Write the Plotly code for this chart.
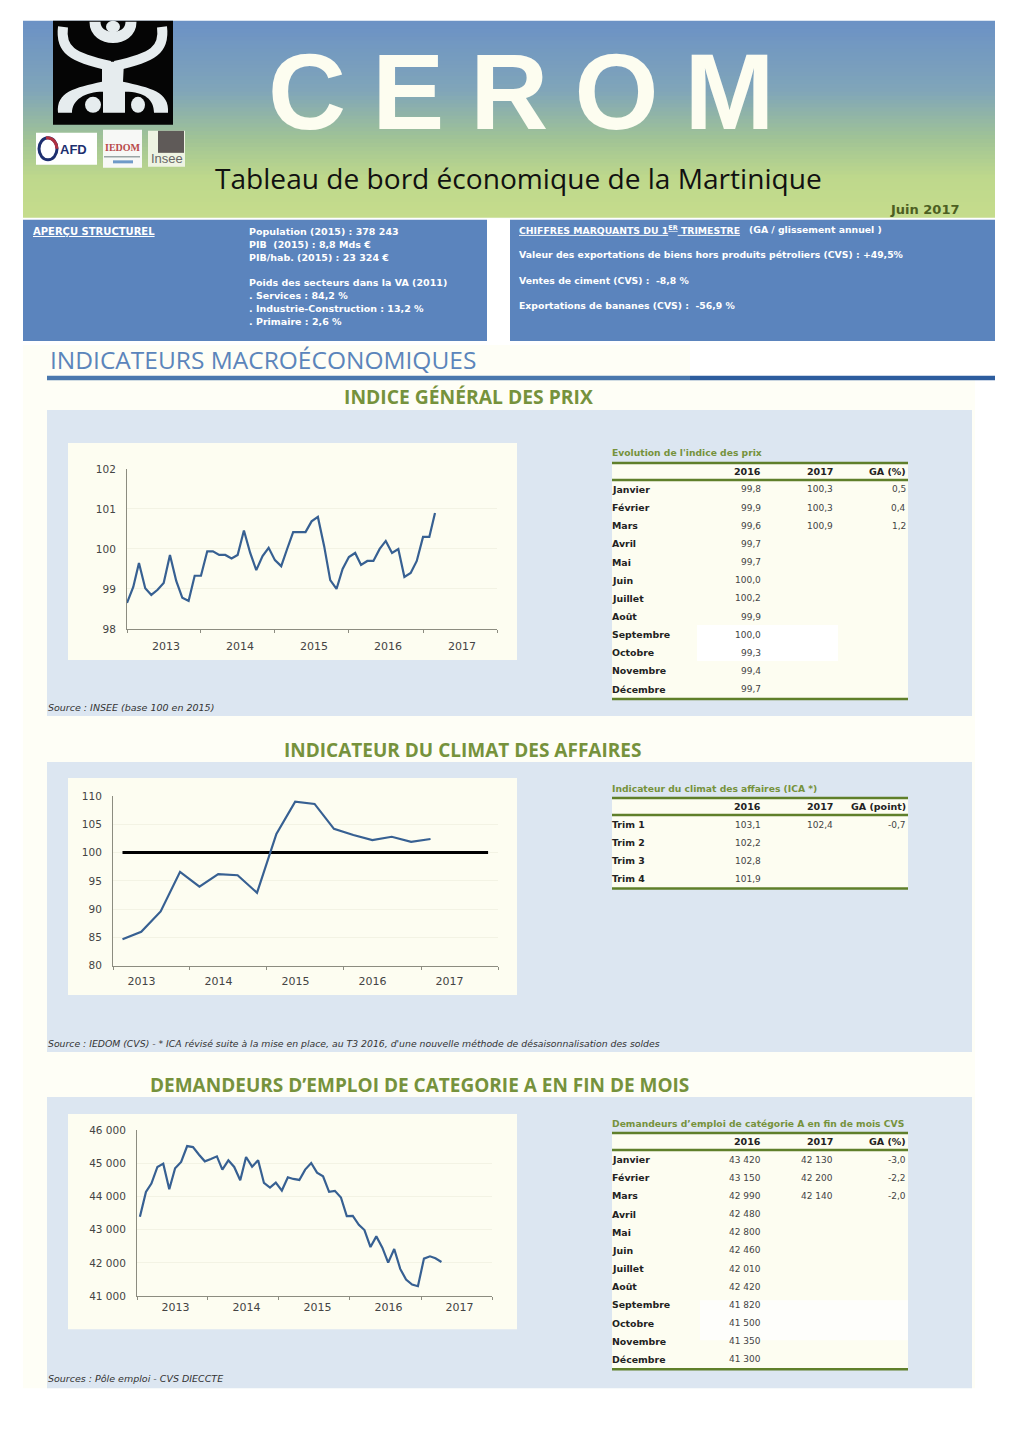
import plotly.graph_objects as go
import pandas as pd

# ---------- data ----------
PRICE_INDEX = [98.65,99.05,99.65,99.02,98.85,98.98,99.15,99.85,99.2,98.78,98.7,99.33,
               99.33,99.94,99.94,99.85,99.85,99.76,99.85,100.46,99.9,99.47,99.82,100.03,
               99.72,99.57,99.98,100.42,100.42,100.42,100.69,100.8,100.07,99.22,99.0,99.5,
               99.8,99.9,99.6,99.7,99.7,100.0,100.2,99.9,100.0,99.3,99.4,99.7,
               100.3,100.3,100.9]
CLIMATE = [84.7,86.0,89.6,96.6,94.0,96.2,96.0,92.9,103.3,109.0,108.6,104.2,
           103.1,102.2,102.8,101.9,102.4]
CLIMATE_REF = [100]*20
JOBSEEKERS = [43390,44140,44390,44890,44990,44220,44850,45040,45520,45490,45260,45060,
              45130,45210,44810,45090,44890,44490,45190,44900,45090,44410,44270,44420,
              44180,44580,44530,44500,44810,45010,44720,44610,44140,44170,43970,43410,
              43420,43150,42990,42480,42800,42460,42010,42420,41820,41500,41350,41300,
              42130,42200,42140,42030]
MONTHS = ["Janvier","Février","Mars","Avril","Mai","Juin","Juillet","Août","Septembre",
          "Octobre","Novembre","Décembre"]
QUARTERS = ["Trim 1","Trim 2","Trim 3","Trim 4"]
T1_2016 = ["99,8","99,9","99,6","99,7","99,7","100,0","100,2","99,9","100,0","99,3","99,4","99,7"]
T1_2017 = ["100,3","100,3","100,9"]
T1_GA = ["0,5","0,4","1,2"]
T2_2016 = ["103,1","102,2","102,8","101,9"]
T2_2017 = ["102,4"]
T2_GA = ["-0,7"]
T3_2016 = ["43 420","43 150","42 990","42 480","42 800","42 460","42 010","42 420","41 820","41 500","41 350","41 300"]
T3_2017 = ["42 130","42 200","42 140"]
T3_GA = ["-3,0","-2,2","-2,0"]
Y3_TICKS = [41000,42000,43000,44000,45000,46000]
Y3_TEXT = ["41 000","42 000","43 000","44 000","45 000","46 000"]

W, H = 1024, 1450
PLOT_TOP, PLOT_H = 6.2, 1437.6   # where the paper's vertical extent lands on the page
BLUE_BOX = "#5b84bd"; PANEL = "#dce6f1"; CREAM = "#fdfdf1"; PAGE = "#fefef6"; GREEN = "#76923c"; RULE = "#5f7f2a"
LINE = "#376092"; DV = "DejaVu Sans"; TITLE_FONT = "Open Sans"; LOGO = "#e6ecee"

px = lambda x: x / W
py = lambda y: 1 - (y - PLOT_TOP) / PLOT_H
shapes, annos = [], []

def rect(x0, y0, x1, y1, color):
    shapes.append(dict(type="rect", xref="paper", yref="paper", layer="below",
                       x0=px(x0), x1=px(x1), y0=py(y1), y1=py(y0), fillcolor=color, line=dict(width=0)))

def hline(x0, x1, y, color, width):
    shapes.append(dict(type="line", xref="paper", yref="paper", layer="below",
                       x0=px(x0), x1=px(x1), y0=py(y), y1=py(y), line=dict(color=color, width=width)))

def curve(cmds, color=LOGO, width=0, fill=None):
    s = ""
    for c in cmds:
        s += c[0] + " " + " ".join(
            f"{px(v) if i % 2 == 0 else py(v):.5f}" for i, v in enumerate(c[1:])) + " "
    shapes.append(dict(type="path", xref="paper", yref="paper", layer="below", path=s,
                       fillcolor=fill if fill else "rgba(0,0,0,0)",
                       line=dict(color=color, width=width)))

def ell(cx, cy, rx, ry, color, lw=0, fill=True):
    shapes.append(dict(type="circle", xref="paper", yref="paper", layer="below",
                       x0=px(cx-rx), x1=px(cx+rx), y0=py(cy+ry), y1=py(cy-ry),
                       fillcolor=color if fill else "rgba(0,0,0,0)",
                       line=dict(width=lw, color=color)))

def text(x, y, s, size=10, color="#222", family=DV, anchor="left", under=False):
    font = dict(size=size, color=color, family=family)
    if under:
        font["lineposition"] = "under"
    dx = {"left": -2, "right": 2, "center": 0}[anchor]
    annos.append(dict(xref="paper", yref="paper", x=px(x+dx), y=py(y), text=s, showarrow=False,
                      xanchor=anchor, yanchor="middle", font=font, align=anchor))

# ---------- page backgrounds ----------
rect(23, 345, 975, 1388, PAGE)
rect(690, 345, 1000, 376, "white")

stops = [(0, (108,146,197)), (0.35, (128,165,185)), (0.6, (160,195,150)), (0.8, (190,216,140)), (1, (197,220,140))]
def grad(t):
    for (a, ca), (b, cb) in zip(stops, stops[1:]):
        if t <= b:
            f = (t-a)/(b-a)
            return "rgb(%d,%d,%d)" % tuple(round(p+(q-p)*f) for p, q in zip(ca, cb))
    return "rgb(197,220,140)"
n = 50
for i in range(n):
    rect(23, 21+197*i/n, 995, min(218, 21+197*(i+1)/n+2), grad(i/(n-1)))
rect(23, 220, 487, 341, BLUE_BOX)
rect(510, 220, 995, 341, BLUE_BOX)

# logo
rect(53, 21, 173, 125, "#050505")
curve([("M",63,27),("C",60,50,72,58,110,66)], width=10)
curve([("M",162,27),("C",165,50,153,58,115,66)], width=10)
curve([("M",95,22),("C",95,43,131,43,131,22)], width=11)
ell(113, 27, 7, 6, LOGO)
curve([("M",102,62),("L",124,62),("L",123,82),("C",150,88,170,92,168,113),("L",154,113),
       ("C",154,100,145,92,125,92),("L",125,113),("L",103,113),("L",103,92),
       ("C",85,92,72,100,72,113),("L",58,113),("C",56,92,75,88,102,82),("Z",)], fill=LOGO)
ell(93, 105, 8, 8, LOGO); ell(138, 105, 7, 8, LOGO)

# partner logos
rect(36, 133, 97, 165, "white")
ell(48, 149, 9, 11, "#1d2f6f", lw=3, fill=False)
curve([("M",46,138),("C",54,138,57,144,57,149)], color="#b03040", width=3)
text(60, 150, "<b>AFD</b>", 13, "#1d2f6f", "Liberation Sans")
rect(103, 130, 142, 168, "#f7f8f6")
text(123, 148, "<b>IEDOM</b>", 10, "#b84a4a", "Liberation Sans Narrow", "center")
hline(104, 140, 157, "#9aa5a5", 1.5)
hline(113, 133, 162, "#6f9ac8", 3)
rect(148, 131, 185, 167, "#eef3e2")
rect(158, 131, 184, 153, "#5f5a58")
text(166.5, 159, "Insee", 13, "#666", "Liberation Sans", "center")

# thin spans keep the title as a single string while matching its letter spacing
SP = '<span style="font-size:94px"> </span>'
text(521, 92, f"<b>C{SP}E{SP}R{SP}O{SP}M</b>", 108, "#fdfdf0", "Liberation Sans", "center")
text(518, 178, "Tableau de bord économique de la Martinique", 28.1, "#111", TITLE_FONT, "center")
text(960, 210, "<b>Juin 2017</b>", 13, "#4d5f22", DV, "right")

WHITE = "#ffffff"
text(33, 232, "<b>APERÇU STRUCTUREL</b>", 10, WHITE, under=True)
for y, s in [(232,"Population (2015) : 378 243"),(245,"PIB  (2015) : 8,8 Mds €"),(258,"PIB/hab. (2015) : 23 324 €"),
             (283,"Poids des secteurs dans la VA (2011)"),(296,". Services : 84,2 %"),
             (309,". Industrie-Construction : 13,2 %"),(322,". Primaire : 2,6 %")]:
    text(249, y, f"<b>{s}</b>", 9.5, WHITE)
text(519, 230, "<b>CHIFFRES MARQUANTS DU 1<sup>ER</sup> TRIMESTRE</b>", 9.3, WHITE, under=True)
text(749, 230, "<b>(GA / glissement annuel )</b>", 9.3, WHITE)
for y, s in [(255,"Valeur des exportations de biens hors produits pétroliers (CVS) : +49,5%"),
             (281,"Ventes de ciment (CVS) :  -8,8 %"),(306,"Exportations de bananes (CVS) :  -56,9 %")]:
    text(519, y, f"<b>{s}</b>", 9.3, WHITE)

text(50, 360, "INDICATEURS MACROÉCONOMIQUES", 24.5, "#5b85bb", TITLE_FONT)
hline(47, 690, 378, "#4a78ad", 4.5)
hline(690, 995, 378, "#2d5d9e", 4.5)

# ---------- section panels ----------
for (y0, y1, cy0, cy1) in [(410,716,443,660),(762,1052,778,995),(1097,1388,1114,1329)]:
    rect(47, y0, 972, y1, PANEL)
    rect(68, cy0, 517, cy1, CREAM)
text(468, 397, "<b>INDICE GÉNÉRAL DES PRIX</b>", 19.3, GREEN, TITLE_FONT, "center")
text(462, 750, "<b>INDICATEUR DU CLIMAT DES AFFAIRES</b>", 19, GREEN, TITLE_FONT, "center")
text(419, 1085, "<b>DEMANDEURS D’EMPLOI DE CATEGORIE A EN FIN DE MOIS</b>", 19, GREEN, TITLE_FONT, "center")
text(48, 708, "<i>Source : INSEE (base 100 en 2015)</i>", 9.5, "#333")
text(48, 1043, "<i>Source : IEDOM (CVS) - * ICA révisé suite à la mise en place, au T3 2016, d'une nouvelle méthode de désaisonnalisation des soldes</i>", 9.3, "#333")
text(48, 1378, "<i>Sources : Pôle emploi - CVS DIECCTE</i>", 9.5, "#333")

# ---------- tables ----------
def table(title, top, bottom, labels, c16, c17, ga, ga_head):
    rect(612, top, 908, bottom, CREAM)
    text(612, top-10, f"<b>{title}</b>", 9.2, GREEN)
    hline(612, 908, top, RULE, 2.5)
    hline(612, 908, top+17, RULE, 2.5)
    hline(612, 908, bottom, RULE, 2.5)
    text(761, top+8.5, "<b>2016</b>", 9.5, "#222", DV, "right")
    text(833, top+8.5, "<b>2017</b>", 9.5, "#222", DV, "right")
    text(906, top+8.5, f"<b>{ga_head}</b>", 9.5, "#222", DV, "right")
    for i, lab in enumerate(labels):
        y = top + 26.5 + i*18.15
        text(612, y, f"<b>{lab}</b>", 9.4)
        text(761, y, c16[i], 9, "#444", DV, "right")
        if i < len(c17):
            text(833, y, c17[i], 9, "#444", DV, "right")
            text(906, y, ga[i], 9, "#444", DV, "right")

table("Evolution de l'indice des prix", 463, 699, MONTHS, T1_2016, T1_2017, T1_GA, "GA (%)")
rect(697, 625, 838, 661, "#ffffff")
table("Indicateur du climat des affaires (ICA *)", 798, 888.5, QUARTERS, T2_2016, T2_2017, T2_GA, "GA (point)")
table("Demandeurs d’emploi de catégorie A en fin de mois CVS", 1133, 1369, MONTHS, T3_2016, T3_2017, T3_GA, "GA (%)")
rect(700, 1300, 908, 1340, "#fefefb")

# ---------- charts ----------
fig = go.Figure()
dates1 = pd.date_range("2013-01-01", periods=len(PRICE_INDEX), freq="MS")
datesq = pd.date_range("2013-02-15", periods=len(CLIMATE_REF), freq=pd.DateOffset(months=3))
dates3 = pd.date_range("2013-01-01", periods=len(JOBSEEKERS), freq="MS") + pd.Timedelta(days=15)
fig.add_trace(go.Scatter(x=dates1, y=PRICE_INDEX, mode="lines", line=dict(color=LINE, width=2.2), xaxis="x", yaxis="y"))
fig.add_trace(go.Scatter(x=datesq, y=CLIMATE_REF, mode="lines", line=dict(color="#000", width=3), xaxis="x2", yaxis="y2"))
fig.add_trace(go.Scatter(x=datesq[:len(CLIMATE)], y=CLIMATE, mode="lines", line=dict(color=LINE, width=2.2), xaxis="x2", yaxis="y2"))
fig.add_trace(go.Scatter(x=dates3, y=JOBSEEKERS, mode="lines", line=dict(color=LINE, width=2.2), xaxis="x3", yaxis="y3"))

def xaxis(a, b, anchor, std=0, shift=0):
    return dict(type="date", domain=[px(a), px(b)], range=["2013-01-01", "2018-01-01"], anchor=anchor,
                dtick="M12", tick0="2013-01-01", tickformat="%Y", ticklabelmode="period",
                showgrid=False, zeroline=False, showline=True, linecolor="#8c8c80", linewidth=1,
                ticks="outside", ticklen=3, tickcolor="#8c8c80", ticklabelstandoff=std, ticklabelshift=shift,
                tickfont=dict(family=DV, size=11, color="#444"))
def yaxis(top, bottom, rng, anchor, **kw):
    return dict(domain=[py(bottom), py(top)], range=rng, anchor=anchor, showgrid=True, gridcolor="#f3f3e4",
                gridwidth=1, zeroline=False, showline=True, linecolor="#8c8c80", linewidth=1, ticks="",
                tickfont=dict(family=DV, size=10.5, color="#444"), ticklabelstandoff=8, **kw)

fig.update_layout(
    width=W, height=H, margin=dict(l=0, r=0, t=0, b=0, pad=0), autosize=False,
    paper_bgcolor="white", plot_bgcolor="rgba(0,0,0,0)", showlegend=False,
    xaxis=xaxis(127, 497, "y", 4, 2), yaxis=yaxis(469, 629, [98, 102], "x", dtick=1),
    xaxis2=xaxis(113, 498, "y2", 2, -10), yaxis2=yaxis(796, 965.7, [80, 110], "x2", dtick=5),
    xaxis3=xaxis(137, 492, "y3", -2, 3),
    yaxis3=yaxis(1130, 1296, [41000, 46000], "x3", tickvals=Y3_TICKS, ticktext=Y3_TEXT),
    shapes=shapes, annotations=annos,
)
fig.write_html("out.html", config=dict(displayModeBar=False),
               post_script="document.body.style.margin='0';document.body.style.overflow='hidden';")
